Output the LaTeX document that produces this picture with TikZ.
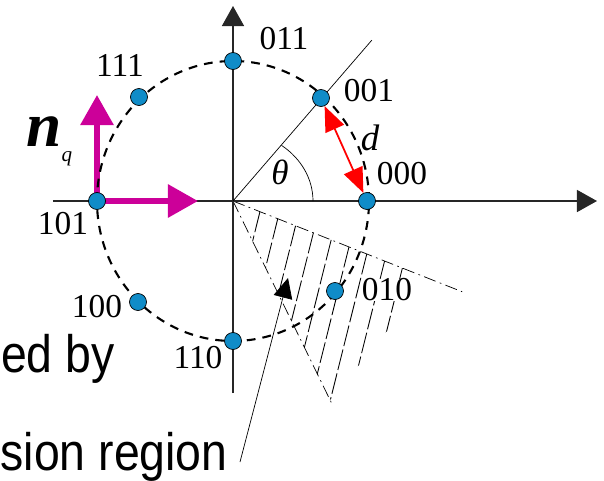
\documentclass[tikz,border=0pt]{standalone}
\usepackage{fontspec}
\setmainfont{Liberation Serif}
\newfontfamily\slidefont{Liberation Sans}
\usepackage{xcolor}
\usetikzlibrary{arrows.meta, positioning}
\definecolor{ptblue}{RGB}{16,140,200}
\definecolor{nqmagenta}{RGB}{204,0,153}

\begin{document}
\begin{tikzpicture}[
  pt/.style={circle, draw=black, fill=ptblue, inner sep=0pt, minimum size=0.34cm},
  lbl/.style={inner sep=1pt, font=\fontsize{19}{19}\selectfont},
  slide/.style={inner sep=0pt, font=\slidefont\fontsize{30}{32}\selectfont},
  axis/.style={line width=0.8pt, draw=black!85, -{Triangle[length=0.4cm, width=0.44cm]}},
  dashdot/.style={thin, dash pattern=on 7pt off 2.5pt on 1pt off 2.5pt}
]
  \useasboundingbox (-4.66,-5.58) rectangle (7.42,4.02);
  \clip (-4.66,-5.58) rectangle (7.42,4.02);

  % hatched decision region
  \coordinate (O) at (0,0);
  \begin{scope}
    \clip (O) -- (3.94,-1.56) -- (1.94,-3.98) -- cycle;
    \foreach \t in {0.58,0.963,...,3.7}
      \draw[line width=0.5pt, dash pattern=on 12pt off 2pt] (-21.6:\t) -- ++(256:5);
  \end{scope}
  \draw[dashdot] (O) -- (-21.6:4.93);
  \draw[dashdot] (O) -- (-64:4.54);

  % pointer to the region
  \coordinate (ptrtail) at (0.14,-5.22);
  \coordinate (ptrtip) at (1.1,-1.54);
  \draw[thin, -{Triangle[length=0.4cm, width=0.38cm]}] (ptrtail) -- (ptrtip);

  % axes
  \draw[axis] (-3.6,0) -- (7.28,0);
  \draw[axis] (0,-3.84) -- (0,3.9);

  % n_q arrows
  \coordinate (c101) at (-2.72,0);
  \coordinate (nqup) at (-2.72,2.12);
  \coordinate (nqright) at (-0.7,0);
  \draw[nqmagenta, line width=3.4pt, -{Triangle[length=0.6cm, width=0.64cm]}] (c101) -- (nqup);
  \draw[nqmagenta, line width=3.4pt, -{Triangle[length=0.6cm, width=0.64cm]}] (c101) -- (nqright);

  % signal circle, angle line and arc
  \draw[line width=1.2pt, dash pattern=on 5pt off 4pt] (O) ellipse (2.72 and 2.8);
  \draw[thin] (O) -- (49.2:4.25);
  \draw[thin] (1.6,0) arc[start angle=0, end angle=52.7, x radius=1.6, y radius=1.4];

  % constellation points
  \node[pt] (p000) at (2.68,0) {};
  \node[pt] (p001) at (1.76,2.06) {};
  \node[pt] (p011) at (0,2.8) {};
  \node[pt] (p111) at (-1.88,2.08) {};
  \node[pt] (p101) at (c101) {};
  \node[pt] (p100) at (-1.9,-2.02) {};
  \node[pt] (p110) at (0,-2.8) {};
  \node[pt] (p010) at (2.04,-1.8) {};

  % distance d
  \draw[red, line width=1pt, {Triangle[length=0.5cm, width=0.4cm]}-{Triangle[length=0.5cm, width=0.4cm]}] (p001) -- (p000);

  % labels
  \node[lbl] (l000) at (3.38,0.54) {000};
  \node[lbl] (l001) at (2.72,2.2) {001};
  \node[lbl] (l011) at (1.02,3.24) {011};
  \node[lbl] (l111) at (-2.26,2.72) {111};
  \node[lbl] (l101) at (-3.4,-0.46) {101};
  \node[lbl] (l100) at (-2.72,-2.12) {100};
  \node[lbl] (l110) at (-0.7,-3.14) {110};
  \node[lbl, fill=white, inner sep=0pt] (l010) at (3.08,-1.78) {010};
  \node[lbl, font=\fontsize{20}{20}\selectfont\itshape] (ltheta) at (0.94,0.58) {θ};
  \node[lbl, font=\fontsize{21}{21}\selectfont\itshape] (ld) at (2.74,1.26) {d};
  \node[inner sep=0pt, anchor=base west] (lnq) at (-4.14,1.1)
    {{\fontsize{36}{36}\selectfont\bfseries\itshape n}\raisebox{-0.3cm}{\fontsize{12}{12}\selectfont\itshape q}};

  % slide text cut by the frame
  \node[slide, anchor=base east] (txtby) at (-2.36,-3.42) {\scalebox{0.88}[1]{ed by}};
  \node[slide, anchor=base east] (txtregion) at (-0.1,-5.38) {\scalebox{0.88}[1]{sion region}};
\end{tikzpicture}
\end{document}
